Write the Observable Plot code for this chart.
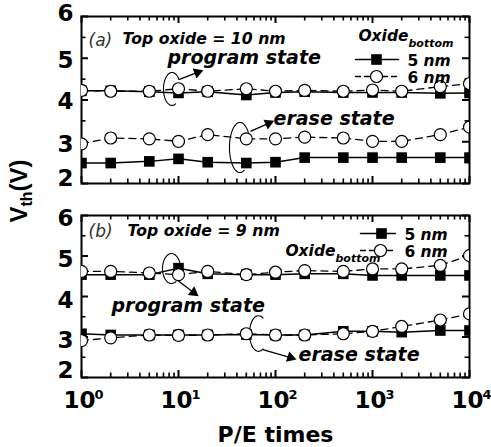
<!DOCTYPE html>
<html>
<head>
<meta charset="utf-8">
<script src="https://cdn.jsdelivr.net/npm/d3@7"></script>
<script src="https://cdn.jsdelivr.net/npm/@observablehq/plot@0.6"></script>
<style>
  html, body { margin: 0; padding: 0; background: #fff; }
  #chart { position: relative; width: 491px; height: 447px; overflow: hidden; background: #fff; }
  #chart svg { position: absolute; left: 0; overflow: visible; }
  #ylab {
    position: absolute; left: 21px; top: 191px; z-index: 2;
    transform: translate(-50%, -50%) rotate(-90deg);
    font: bold 24px "Liberation Sans", Arial, sans-serif; white-space: nowrap; line-height: 1;
  }
  #ylab sub { font-size: 16px; vertical-align: -5px; }
</style>
</head>
<body>
<div id="chart"><div id="ylab">V<sub>th</sub>(V)</div></div>
<script>
const FONT = "DejaVu Sans";
const WIDTH = 491, MARGIN_LEFT = 81, MARGIN_RIGHT = 22;

// program/erase cycles
const cycles = [1, 2, 5, 10, 20, 50, 100, 200, 500, 1000, 2000, 5000, 10000];

// (a) top oxide 10 nm — threshold voltage (V)
const aProgram5 = [4.22, 4.22, 4.20, 4.17, 4.20, 4.12, 4.18, 4.20, 4.18, 4.18, 4.18, 4.16, 4.17];
const aProgram6 = [4.23, 4.21, 4.21, 4.27, 4.21, 4.27, 4.21, 4.23, 4.21, 4.24, 4.21, 4.32, 4.39];
const aErase5   = [2.49, 2.49, 2.53, 2.59, 2.51, 2.49, 2.51, 2.62, 2.62, 2.62, 2.62, 2.62, 2.62];
const aErase6   = [2.95, 3.09, 3.07, 3.01, 3.17, 3.07, 3.07, 3.11, 3.09, 3.01, 3.01, 3.17, 3.35];

// (b) top oxide 9 nm — threshold voltage (V)
const bProgram5 = [4.54, 4.54, 4.54, 4.70, 4.56, 4.54, 4.54, 4.56, 4.56, 4.52, 4.52, 4.52, 4.52];
const bProgram6 = [4.62, 4.62, 4.58, 4.54, 4.62, 4.54, 4.60, 4.64, 4.62, 4.68, 4.68, 4.77, 5.01];
const bErase5   = [3.08, 3.05, 3.05, 3.05, 3.05, 3.06, 3.05, 3.05, 3.14, 3.14, 3.12, 3.16, 3.16];
const bErase6   = [2.91, 2.98, 3.05, 3.04, 3.05, 3.08, 3.05, 3.05, 3.08, 3.14, 3.26, 3.42, 3.57];

// axes
const decades = [1, 10, 100, 1000, 10000];
const exponents = ["0", "1", "2", "3", "4"];
const decadeMinor = decades.slice(0, -1).flatMap(d => d3.range(2, 10).map(k => k * d));
const vTicks = [2, 3, 4, 5, 6];
const vMinor = [2.5, 3.5, 4.5, 5.5];

// legend
const legendSizes = ["5", "6"];
const legendUnit = "nm";
const legendTitle = ["Oxide", "bottom"];

const rows = vals => cycles.map((n, i) => ({n, v: vals[i]}));

function seriesMarks(solid, dashed) {
  const s = rows(solid), d = rows(dashed);
  return [
    Plot.line(s, {x: "n", y: "v", stroke: "black", strokeWidth: 1.5, clip: true}),
    Plot.line(d, {x: "n", y: "v", stroke: "black", strokeWidth: 1.3, strokeDasharray: "7,5", clip: true}),
    Plot.dot(s, {x: "n", y: "v", symbol: "square", r: 6, fill: "black", clip: true}),
    Plot.dot(d, {x: "n", y: "v", symbol: "circle", r: 6, fill: "white", stroke: "black", strokeWidth: 1.2, clip: true})
  ];
}

// curled bracket around a pair of curves: [centre cycles, centre V, half-width (decades), half-height (V), from°, to°]
function loopMark([cx, cy, rx, ry, from, to]) {
  const pts = d3.range(from, to + 1, 10).map(t => ({
    n: 10 ** (Math.log10(cx) + rx * Math.cos(t * Math.PI / 180)),
    v: cy + ry * Math.sin(t * Math.PI / 180)
  }));
  return Plot.line(pts, {x: "n", y: "v", stroke: "black", strokeWidth: 1.1, curve: "natural"});
}

// pointer from a bracket to its label: [x1, y1, x2, y2, head rotation°]
function pointerMarks([x1, y1, x2, y2, rot]) {
  return [
    Plot.link([0], {x1: () => x1, y1: () => y1, x2: () => x2, y2: () => y2, stroke: "black", strokeWidth: 1.3}),
    Plot.dot([0], {x: () => x2, y: () => y2, symbol: "triangle", r: 4, rotate: rot, fill: "black"})
  ];
}

const hLine = {draw(context, l) { context.moveTo(-l / 2, 0); context.lineTo(l / 2, 0); }};

function legendMarks(L) {
  const t = (text, dx, dy, extra) => Plot.text([text], {
    frameAnchor: "top-right", dx, dy, text: d => d, textAnchor: "start", lineAnchor: "bottom",
    fontFamily: FONT, fontWeight: "bold", fill: "black", ...extra
  });
  return [
    Plot.vector([0], {frameAnchor: "top-right", dx: L.lineDx, dy: L.row1, length: L.len, anchor: "start",
      shape: hLine, stroke: "black", strokeWidth: 1.5}),
    Plot.vector([0], {frameAnchor: "top-right", dx: L.lineDx, dy: L.row2, length: L.len, anchor: "start",
      shape: hLine, stroke: "black", strokeWidth: 1.3, strokeDasharray: "5,4"}),
    Plot.dot([0], {frameAnchor: "top-right", dx: L.mark1Dx, dy: L.row1, symbol: "square", r: 6, fill: "black"}),
    Plot.dot([0], {frameAnchor: "top-right", dx: L.mark2Dx, dy: L.row2, symbol: "circle", r: 6,
      fill: "white", stroke: "black", strokeWidth: 1.2}),
    t(legendSizes[0], L.textDx, L.row1 + 6, {fontSize: 15.5}),
    t(legendUnit, L.textDx + 16, L.row1 + 6, {fontSize: 15.5, fontStyle: "italic"}),
    t(legendSizes[1], L.textDx, L.row2 + 6, {fontSize: 15.5}),
    t(legendUnit, L.textDx + 16, L.row2 + 6, {fontSize: 15.5, fontStyle: "italic"}),
    t(legendTitle[0], L.titleDx, L.titleDy, {fontSize: 15.5, fontStyle: "italic", textAnchor: "end"}),
    t(legendTitle[1], L.titleDx, L.titleDy + 6, {fontSize: 11, fontStyle: "italic"})
  ];
}

function label(text, dx, dy, size, extra = {}) {
  return Plot.text([text], {
    frameAnchor: "top-left", dx, dy, text: d => d, textAnchor: "start", lineAnchor: "bottom",
    fontFamily: FONT, fontSize: size, fontWeight: "bold", fontStyle: "italic", fill: "black", ...extra
  });
}

// inward tick marks on all four sides of the frame (ticks span the frame, inset to a short stub)
function frameTicks(innerW, innerH, labelDy) {
  const tx = (values, side, len, sw) => Plot.tickX(values, {x: d => d, stroke: "black", strokeWidth: sw,
    [side === "bottom" ? "insetTop" : "insetBottom"]: innerH - len});
  const ty = (values, side, len, sw) => Plot.tickY(values, {y: d => d, stroke: "black", strokeWidth: sw,
    [side === "left" ? "insetRight" : "insetLeft"]: innerW - len});
  return [
    tx(decades, "bottom", 7, 2), tx(decadeMinor, "bottom", 4.5, 1.6),
    tx(decades, "top", 7, 2), tx(decadeMinor, "top", 4.5, 1.6),
    ty(vTicks, "left", 7, 2), ty(vMinor, "left", 4.5, 1.6),
    ty(vTicks, "right", 7, 2), ty(vMinor, "right", 4.5, 1.6),
    ...vTicks.map((v, i) => Plot.axisY({ticks: [v], anchor: "left", tickSize: 0, tickPadding: 8,
      tickFormat: d => String(d), fontFamily: FONT, fontSize: 23, fontWeight: "bold", dy: labelDy[i], label: null})),
    Plot.frame({stroke: "black", strokeWidth: 2})
  ];
}

function panel({height, marginTop, marginBottom, labelDy, program, erase, texts, loops, pointers, legend, extra = []}) {
  const innerW = WIDTH - MARGIN_LEFT - MARGIN_RIGHT, innerH = height - marginTop - marginBottom;
  return Plot.plot({
    width: WIDTH, height, marginLeft: MARGIN_LEFT, marginRight: MARGIN_RIGHT, marginTop, marginBottom,
    x: {type: "log", domain: [1, 10000], axis: null},
    y: {domain: [2, 6], axis: null},
    style: {fontFamily: FONT, background: "transparent", color: "black", overflow: "visible"},
    marks: [
      ...frameTicks(innerW, innerH, labelDy),
      ...loops.map(loopMark),
      ...pointers.flatMap(pointerMarks),
      ...seriesMarks(...program),
      ...seriesMarks(...erase),
      ...texts,
      ...legendMarks(legend),
      ...extra
    ]
  });
}

const panelA = panel({
  height: 200, marginTop: 16, marginBottom: 17,
  labelDy: [-5, 3, 2, 2, -3],
  program: [aProgram5, aProgram6],
  erase: [aErase5, aErase6],
  loops: [[8.57, 4.264, 0.088, 0.395, 35, 300], [43, 2.862, 0.108, 0.6, 35, 300]],
  pointers: [[10.1, 4.49, 15.7, 4.66, 69], [55.2, 3.25, 84.7, 3.44, 66]],
  texts: [
    label("(a)", 7, 29, 17, {fontWeight: "normal", fill: "#333"}),
    label("Top oxide = 10 nm", 41, 27, 15.7),
    label("program state", 86, 47, 19),
    label("erase state", 192, 108, 19)
  ],
  legend: {lineDx: -92.5, len: 43, row1: 43, row2: 60, mark1Dx: -93, mark2Dx: -93, textDx: -62, titleDx: -61, titleDy: 24}
});

const panelB = panel({
  height: 247, marginTop: 15, marginBottom: 70,
  labelDy: [-7, 4, 4, 4, 3],
  program: [bProgram5, bProgram6],
  erase: [bErase5, bErase6],
  loops: [[8.47, 4.69, 0.093, 0.37, 0, 300], [66.8, 3.086, 0.093, 0.44, 60, 300]],
  pointers: [[9.77, 4.40, 14.3, 4.10, 127], [74, 2.69, 143, 2.49, 108]],
  texts: [
    label("(b)", 7, 21, 17, {fontWeight: "normal", fill: "#333"}),
    label("Top oxide = 9 nm", 46, 20, 15.7),
    label("program state", 30, 96, 19),
    label("erase state", 217, 145, 19)
  ],
  legend: {lineDx: -91.5, len: 35, row1: 18, row2: 35, mark1Dx: -88, mark2Dx: -89, textDx: -65, titleDx: -134, titleDy: 40},
  extra: [
    Plot.text(decades, {x: d => d, frameAnchor: "bottom", text: () => "10", textAnchor: "end",
      lineAnchor: "bottom", dx: 14, dy: 30, fontFamily: FONT, fontSize: 23, fontWeight: "bold"}),
    Plot.text(decades, {x: d => d, frameAnchor: "bottom", text: (d, i) => exponents[i], textAnchor: "start",
      lineAnchor: "bottom", dx: 13, dy: 21, fontFamily: FONT, fontSize: 13, fontWeight: "bold"}),
    Plot.text(["P/E times"], {frameAnchor: "bottom", text: d => d, lineAnchor: "bottom", dy: 64,
      fontFamily: FONT, fontSize: 22, fontWeight: "bold"})
  ]
});

panelA.style.top = "0px";
panelB.style.top = "200px";
const chart = document.getElementById("chart");
chart.insertBefore(panelA, chart.firstChild);
chart.insertBefore(panelB, panelA.nextSibling);
</script>
</body>
</html>
